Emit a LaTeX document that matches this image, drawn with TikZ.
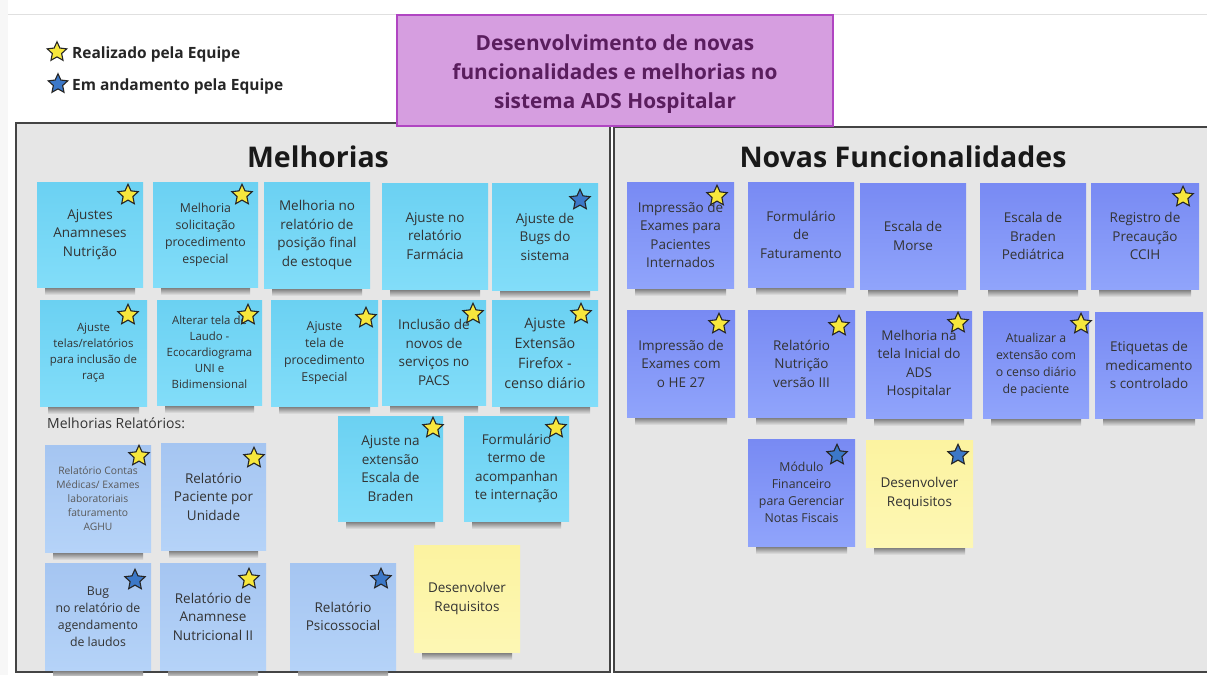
\documentclass[tikz,border=0pt]{standalone}
\usepackage{fontspec}
\setmainfont{Open Sans}
\usetikzlibrary{shapes.geometric}
\definecolor{panelbg}{HTML}{E6E6E6}
\definecolor{panelline}{HTML}{444444}
\definecolor{titlefill}{HTML}{D69EE0}
\definecolor{titleline}{HTML}{B045C2}
\definecolor{titletext}{HTML}{5A1E5E}
\definecolor{cyanT}{HTML}{6BD1F2}
\definecolor{cyanB}{HTML}{82DDF9}
\definecolor{lblueT}{HTML}{A5C5F1}
\definecolor{lblueB}{HTML}{B5D3F8}
\definecolor{periT}{HTML}{788AF3}
\definecolor{periB}{HTML}{90A4FB}
\definecolor{yelT}{HTML}{FCF3A0}
\definecolor{yelB}{HTML}{FDF7B4}
\definecolor{starY}{HTML}{F7E73C}
\definecolor{starB}{HTML}{3C78C8}
\definecolor{notetext}{HTML}{333333}
\newcommand{\nfMain}{\fontsize{13.5}{18.5}\selectfont}
\newcommand{\nfSmall}{\fontsize{12.3}{17}\selectfont}
\newcommand{\nfXs}{\fontsize{11.4}{16}\selectfont}
\newcommand{\nfTiny}{\fontsize{10.3}{14.2}\selectfont}
\newcommand{\nfBig}{\fontsize{14.3}{20}\selectfont}
\newcommand{\stickynote}[7]{%
  \pgfmathsetmacro{\snw}{#4-#2}\pgfmathsetmacro{\snh}{#5-#3}%
  \pgfmathsetmacro{\sncx}{(#2+#4)/2}\pgfmathsetmacro{\sncy}{(#3+#5)/2}%
  \shade[top color=black!55, bottom color=panelbg] ({#2+8},#5) rectangle ({#4-8},{#5+8});
  \node[notebox,#6,minimum width=\snw pt,minimum height=\snh pt] (#1) at (\sncx,\sncy) {#7};
}
\begin{document}
\begin{tikzpicture}[x=1pt,y=-1pt,
  notebox/.style={rectangle,inner sep=2pt,align=center,text=notetext,font=\nfMain},
  cyannote/.style={top color=cyanT,bottom color=cyanB},
  lbluenote/.style={top color=lblueT,bottom color=lblueB},
  perinote/.style={top color=periT,bottom color=periB},
  yelnote/.style={top color=yelT,bottom color=yelB},
  starbase/.style={star,star points=5,star point ratio=2.1,minimum size=21.5pt,inner sep=0pt,draw=black!85,line width=1.1pt},
  ystar/.style={starbase,fill=starY},
  bstar/.style={starbase,fill=starB},
  panel/.style={fill=panelbg,draw=panelline,line width=1.8pt},
  heading/.style={font=\fontsize{28.5}{34}\bfseries\selectfont,text=black!90},
  legtext/.style={anchor=west,font=\fontsize{15.5}{18}\bfseries\selectfont,text=black!85,inner sep=0pt},
]
\useasboundingbox (0,0) rectangle (1207,675);
\fill[white] (0,0) rectangle (1207,675);
\fill[black!3] (0,0) rectangle (8,675);
\draw[black!12,line width=1pt] (8,14) -- (1207,14);

% panels
\draw[panel] (614,127) rectangle (1215,672);
\draw[panel] (16,123) rectangle (610,672);

% title
\node[fill=titlefill,draw=titleline,line width=1.6pt,minimum width=436pt,minimum height=111pt] (titlebox) at (615,70.5) {};
\node[align=center,text=titletext,font=\fontsize{20.8}{29}\bfseries\selectfont,inner sep=0pt] (title) at (615,74.5)
  {Desenvolvimento de novas\\funcionalidades e melhorias no\\sistema ADS Hospitalar};

% legend
\node[starbase,fill=starY,minimum size=20.5pt] (legY) at (57,52) {};
\node[starbase,fill=starB,minimum size=20.5pt] (legB) at (58,84) {};
\node[legtext] (legYt) at (72,54) {Realizado pela Equipe};
\node[legtext] (legBt) at (72,86) {Em andamento pela Equipe};

% headings
\node[heading] (hMel) at (318,157) {Melhorias};
\node[heading] (hNov) at (903,157) {Novas Funcionalidades};

% ---------------- Melhorias row 1
\stickynote{m11}{37}{182}{143}{287}{cyannote}{Ajustes\\Anamneses\\Nutrição}
\stickynote{m12}{153}{182}{258}{287}{cyannote,font=\nfSmall}{Melhoria\\solicitação\\procedimento\\especial}
\stickynote{m13}{264}{182}{370}{288}{cyannote}{Melhoria no\\relatório de\\posição final\\de estoque}
\stickynote{m14}{382}{183}{488}{289}{cyannote}{Ajuste no\\relatório\\Farmácia}
\stickynote{m15}{492}{183}{598}{290}{cyannote}{Ajuste de\\Bugs do\\sistema}
\node[ystar] (s11) at (128,195) {};
\node[ystar] (s12) at (242,195) {};
\node[bstar] (s15) at (580,200) {};

% ---------------- Melhorias row 2
\stickynote{m21}{40}{300}{147}{406}{cyannote,font=\nfXs}{Ajuste\\telas/relatórios\\para inclusão de\\raça}
\stickynote{m22}{157}{300}{262}{405}{cyannote,font=\nfXs}{Alterar tela de\\Laudo -\\Ecocardiograma\\UNI e\\Bidimensional}
\stickynote{m23}{271}{300}{378}{406}{cyannote,font=\nfSmall}{Ajuste\\tela de\\procedimento\\Especial}
\stickynote{m24}{382}{300}{486}{405}{cyannote}{Inclusão de\\novos de\\serviços no\\PACS}
\stickynote{m25}{492}{300}{598}{406}{cyannote,font=\nfBig}{Ajuste\\Extensão\\Firefox -\\censo diário}
\node[ystar] (s21) at (128,315) {};
\node[ystar] (s22) at (248,315) {};
\node[ystar] (s23) at (366,318) {};
\node[ystar] (s24) at (473,314) {};
\node[ystar] (s25) at (581,314) {};

\node[anchor=west,inner sep=0pt,font=\fontsize{14}{17}\selectfont,text=black!80] (mrel) at (47,423) {Melhorias Relatórios:};

% ---------------- Melhorias row 3
\stickynote{m31}{338}{416}{443}{521}{cyannote}{Ajuste na\\extensão\\Escala de\\Braden}
\stickynote{m32}{464}{416}{569}{521}{cyannote}{Formulário\\termo de\\acompanhan\\te internação}
\node[ystar] (s31) at (433,428) {};
\node[ystar] (s32) at (556,428) {};

\stickynote{r11}{45}{445}{151}{552}{lbluenote,font=\nfTiny,text=black!65}{Relatório Contas\\Médicas/ Exames\\laboratoriais\\faturamento\\AGHU}
\stickynote{r12}{161}{443}{266}{550}{lbluenote}{Relatório\\Paciente por\\Unidade}
\node[ystar] (sr11) at (139,456) {};
\node[ystar] (sr12) at (254,458) {};

\stickynote{mreq}{414}{545}{520}{652}{yelnote}{Desenvolver\\Requisitos}

% ---------------- Melhorias row 4
\stickynote{r21}{45}{563}{151}{670}{lbluenote,font=\nfSmall}{Bug\\no relatório de\\agendamento\\de laudos}
\stickynote{r22}{160}{563}{266}{670}{lbluenote}{Relatório de\\Anamnese\\Nutricional II}
\stickynote{r23}{290}{563}{396}{670}{lbluenote}{Relatório\\Psicossocial}
\node[bstar] (sr21) at (135,580) {};
\node[ystar] (sr22) at (249,579) {};
\node[bstar] (sr23) at (381,579) {};

% ---------------- Novas row 1
\stickynote{n11}{627}{182}{734}{288}{perinote}{Impressão de\\Exames para\\Pacientes\\Internados}
\stickynote{n12}{748}{182}{854}{287}{perinote}{Formulário\\de\\Faturamento}
\stickynote{n13}{860}{183}{966}{289}{perinote}{Escala de\\Morse}
\stickynote{n14}{980}{183}{1086}{289}{perinote}{Escala de\\Braden\\Pediátrica}
\stickynote{n15}{1091}{183}{1199}{289}{perinote}{Registro de\\Precaução\\CCIH}
\node[ystar] (sn11) at (717,196) {};
\node[ystar] (sn15) at (1183,197) {};

% ---------------- Novas row 2
\stickynote{n21}{627}{310}{735}{417}{perinote}{Impressão de\\Exames com\\o HE 27}
\stickynote{n22}{748}{310}{855}{417}{perinote}{Relatório\\Nutrição\\versão III}
\stickynote{n23}{866}{311}{972}{418}{perinote}{Melhoria na\\tela Inicial do\\ADS\\Hospitalar}
\stickynote{n24}{983}{311}{1089}{418}{perinote,font=\nfSmall}{Atualizar a\\extensão com\\o censo diário\\de paciente}
\stickynote{n25}{1095}{312}{1203}{418}{perinote}{Etiquetas de\\medicamento\\s controlado}
\node[ystar] (sn21) at (719,324) {};
\node[ystar] (sn22) at (839,326) {};
\node[ystar] (sn23) at (958,323) {};
\node[ystar] (sn24) at (1081,324) {};

% ---------------- Novas row 3
\stickynote{n31}{748}{439}{855}{546}{perinote,font=\nfSmall}{Módulo\\Financeiro\\para Gerenciar\\Notas Fiscais}
\stickynote{nreq}{866}{440}{973}{547}{yelnote}{Desenvolver\\Requisitos}
\node[bstar] (sn31) at (837,455) {};
\node[bstar] (sn32) at (958,455) {};
\end{tikzpicture}
\end{document}
